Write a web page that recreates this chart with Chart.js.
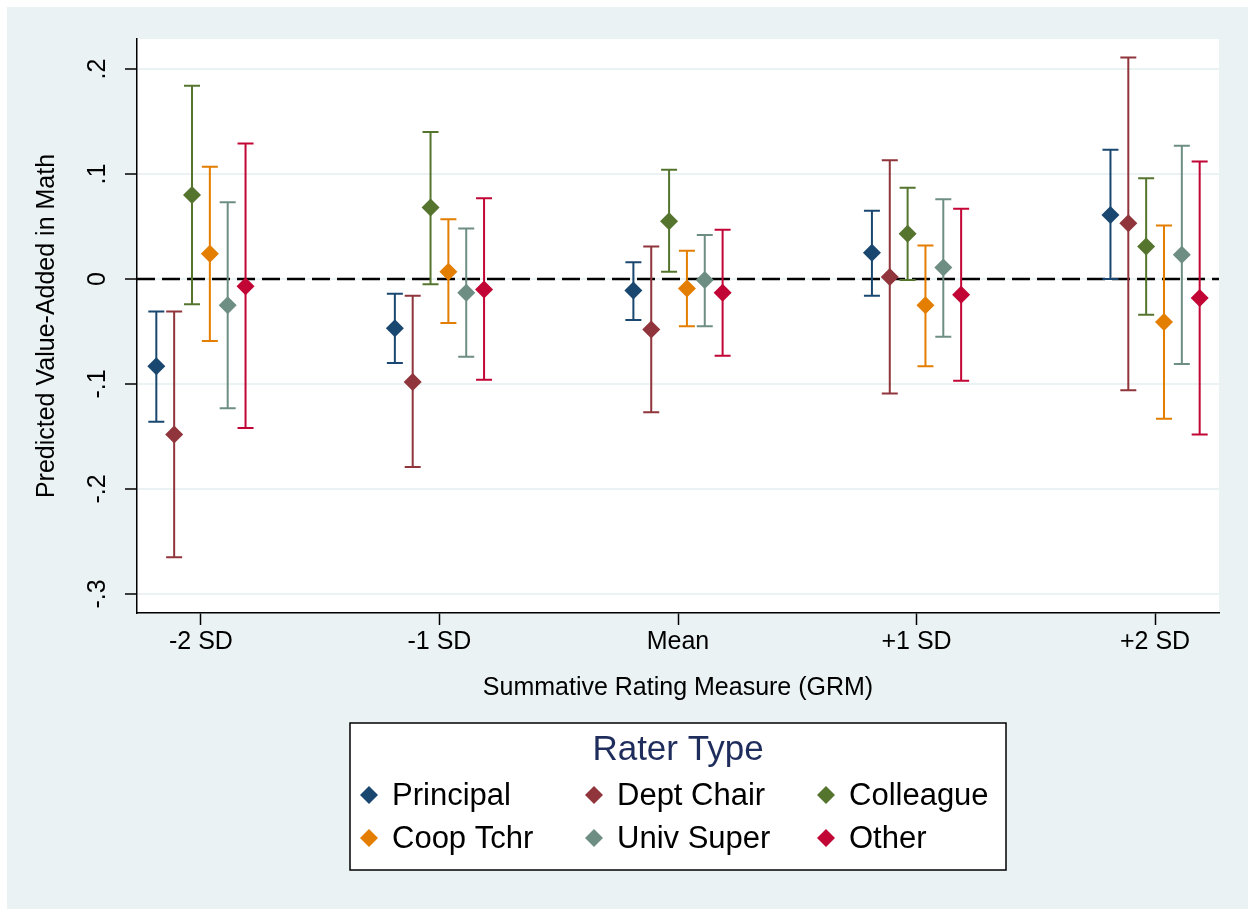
<!DOCTYPE html>
<html>
<head>
<meta charset="utf-8">
<script src="https://cdn.jsdelivr.net/npm/chart.js@4/dist/chart.umd.min.js"></script>
<style>
    body { margin: 0; background: #ffffff; }
    canvas { display: block; }
</style>
</head>
<body>
<canvas id="mainChart" width="1248" height="909"></canvas>
<script>
// categories on the x axis
const categories = ["-2 SD", "-1 SD", "Mean", "+1 SD", "+2 SD"]

// y axis ticks
const yTicks = [-0.3, -0.2, -0.1, 0, 0.1, 0.2]
const yTickLabels = ["-.3", "-.2", "-.1", "0", ".1", ".2"]

const raterTypes = ["Principal", "Dept Chair", "Colleague", "Coop Tchr", "Univ Super", "Other"]

// point estimates and 95% CI bounds, one value per category
const principalEst = [-0.083, -0.047, -0.011, 0.025, 0.061]
const principalLo  = [-0.136, -0.080, -0.039, -0.016, 0.000]
const principalHi  = [-0.031, -0.014, 0.016, 0.065, 0.123]

const deptChairEst = [-0.148, -0.098, -0.048, 0.002, 0.053]
const deptChairLo  = [-0.265, -0.179, -0.127, -0.109, -0.106]
const deptChairHi  = [-0.031, -0.016, 0.031, 0.113, 0.211]

const colleagueEst = [0.080, 0.068, 0.055, 0.043, 0.031]
const colleagueLo  = [-0.024, -0.005, 0.007, -0.001, -0.034]
const colleagueHi  = [0.184, 0.140, 0.104, 0.087, 0.096]

const coopTchrEst = [0.024, 0.007, -0.009, -0.025, -0.041]
const coopTchrLo  = [-0.059, -0.042, -0.045, -0.083, -0.133]
const coopTchrHi  = [0.107, 0.057, 0.027, 0.032, 0.051]

const univSuperEst = [-0.025, -0.013, -0.001, 0.011, 0.023]
const univSuperLo  = [-0.123, -0.074, -0.045, -0.055, -0.081]
const univSuperHi  = [0.073, 0.048, 0.042, 0.076, 0.127]

const otherEst = [-0.007, -0.010, -0.013, -0.015, -0.018]
const otherLo  = [-0.142, -0.096, -0.073, -0.097, -0.148]
const otherHi  = [0.129, 0.077, 0.047, 0.067, 0.112]

const estimates = [principalEst, deptChairEst, colleagueEst, coopTchrEst, univSuperEst, otherEst]
const lowerBounds = [principalLo, deptChairLo, colleagueLo, coopTchrLo, univSuperLo, otherLo]
const upperBounds = [principalHi, deptChairHi, colleagueHi, coopTchrHi, univSuperHi, otherHi]

// stata s2color: navy, maroon, forest green, dkorange, teal, cranberry
const colors = ["#1a476f", "#90353b", "#55752f", "#e37e00", "#6e8e84", "#c10534"]

const FONT = "'Liberation Sans', Arial, sans-serif"
const BG = "#eaf2f3"
const dodge = 0.0748

const datasets = raterTypes.map((name, i) => ({
    label: name,
    data: estimates[i].map((v, j) => ({ x: j + (i - 2.5) * dodge, y: v })),
    backgroundColor: colors[i],
    borderColor: colors[i],
    pointStyle: "rectRot",
    pointRadius: 9,
    pointBorderWidth: 0,
    showLine: false,
    lower: lowerBounds[i],
    upper: upperBounds[i]
}))

/**
 * Plugins
 */
const backgroundPlugin = {
    id: "background",
    beforeDraw(chart) {
        const ctx = chart.ctx
        const a = chart.chartArea
        ctx.save()
        ctx.fillStyle = "#ffffff"
        ctx.fillRect(0, 0, chart.width, chart.height)
        ctx.fillStyle = BG
        ctx.fillRect(7, 7, chart.width - 7, chart.height - 7)
        ctx.fillStyle = "#ffffff"
        ctx.fillRect(a.left, a.top, a.right - a.left, a.bottom - a.top)
        ctx.restore()
    }
}

const errorBarPlugin = {
    id: "errorBars",
    beforeDatasetsDraw(chart) {
        const ctx = chart.ctx
        const yScale = chart.scales.y
        const a = chart.chartArea

        // dashed zero line
        const y0 = yScale.getPixelForValue(0)
        ctx.save()
        ctx.strokeStyle = "#000000"
        ctx.lineWidth = 2.5
        ctx.setLineDash([18, 7])
        ctx.beginPath()
        ctx.moveTo(a.left, y0)
        ctx.lineTo(a.right, y0)
        ctx.stroke()
        ctx.setLineDash([])

        chart.data.datasets.forEach((ds, i) => {
            const meta = chart.getDatasetMeta(i)
            ctx.strokeStyle = ds.borderColor
            ctx.lineWidth = 2
            meta.data.forEach((pt, j) => {
                const yLo = yScale.getPixelForValue(ds.lower[j])
                const yHi = yScale.getPixelForValue(ds.upper[j])
                ctx.beginPath()
                ctx.moveTo(pt.x, yLo)
                ctx.lineTo(pt.x, yHi)
                ctx.moveTo(pt.x - 8, yLo)
                ctx.lineTo(pt.x + 8, yLo)
                ctx.moveTo(pt.x - 8, yHi)
                ctx.lineTo(pt.x + 8, yHi)
                ctx.stroke()
            })
        })
        ctx.restore()
    }
}

const yLabelsPlugin = {
    id: "yLabels",
    afterDraw(chart) {
        const ctx = chart.ctx
        const yScale = chart.scales.y
        ctx.save()
        ctx.fillStyle = "#000000"
        ctx.font = "25px " + FONT
        ctx.textAlign = "center"
        ctx.textBaseline = "middle"
        yTicks.forEach((v, i) => {
            ctx.save()
            ctx.translate(98, yScale.getPixelForValue(v))
            ctx.rotate(-Math.PI / 2)
            ctx.fillText(yTickLabels[i], 0, 0)
            ctx.restore()
        })
        ctx.restore()
    }
}

const raterLegendPlugin = {
    id: "raterLegend",
    afterDraw(chart) {
        const ctx = chart.ctx
        const box = { left: 350, top: 723, width: 656, height: 147 }
        ctx.save()
        ctx.fillStyle = "#ffffff"
        ctx.fillRect(box.left, box.top, box.width, box.height)
        ctx.strokeStyle = "#000000"
        ctx.lineWidth = 1.5
        ctx.strokeRect(box.left, box.top, box.width, box.height)

        ctx.fillStyle = "#1f2d5c"
        ctx.font = "35px " + FONT
        ctx.textAlign = "center"
        ctx.textBaseline = "middle"
        ctx.fillText("Rater Type", box.left + box.width / 2, 750)

        const colX = [369, 594, 826]
        const rowY = [795, 838]
        ctx.font = "31px " + FONT
        ctx.textAlign = "left"
        chart.data.datasets.forEach((ds, i) => {
            const cx = colX[i % 3]
            const cy = rowY[Math.floor(i / 3)]
            ctx.fillStyle = ds.backgroundColor
            ctx.beginPath()
            ctx.moveTo(cx, cy - 9)
            ctx.lineTo(cx + 9, cy)
            ctx.lineTo(cx, cy + 9)
            ctx.lineTo(cx - 9, cy)
            ctx.closePath()
            ctx.fill()
            ctx.fillStyle = "#000000"
            ctx.fillText(ds.label, cx + 23, cy + 1)
        })
        ctx.restore()
    }
}

const ctx = document.getElementById("mainChart").getContext("2d")
window.myChart = new Chart(ctx, {
    type: "scatter",
    data: { datasets: datasets },
    options: {
        responsive: false,
        animation: false,
        devicePixelRatio: 1,
        layout: { padding: { left: 0, top: 39, right: 29, bottom: 0 } },
        plugins: {
            legend: { display: false },
            tooltip: { enabled: false }
        },
        scales: {
            x: {
                type: "linear",
                min: -0.268,
                max: 4.268,
                afterBuildTicks: (scale) => { scale.ticks = categories.map((c, i) => ({ value: i })) },
                afterFit: (scale) => { scale.height = 296 },
                ticks: {
                    callback: (v) => categories[v],
                    font: { family: FONT, size: 25 },
                    color: "#000000",
                    padding: 2,
                    maxRotation: 0,
                    autoSkip: false
                },
                grid: { drawOnChartArea: false, tickLength: 12, tickColor: "#000000", tickWidth: 1.5 },
                border: { color: "#000000", width: 1.5 },
                title: {
                    display: true,
                    text: "Summative Rating Measure (GRM)",
                    font: { family: FONT, size: 25 },
                    color: "#000000",
                    padding: { top: 0, bottom: 206 }
                }
            },
            y: {
                type: "linear",
                min: -0.3181,
                max: 0.2286,
                afterBuildTicks: (scale) => { scale.ticks = yTicks.map(v => ({ value: v })) },
                afterFit: (scale) => { scale.width = 137 },
                ticks: { display: false },
                grid: { color: BG, lineWidth: 2, tickLength: 12, tickColor: "#000000", tickWidth: 1.5 },
                border: { color: "#000000", width: 1.5 },
                title: {
                    display: true,
                    text: "Predicted Value-Added in Math",
                    font: { family: FONT, size: 25 },
                    color: "#000000",
                    padding: { top: 32, bottom: 0 }
                }
            }
        }
    },
    plugins: [backgroundPlugin, errorBarPlugin, yLabelsPlugin, raterLegendPlugin]
})
</script>
</body>
</html>
